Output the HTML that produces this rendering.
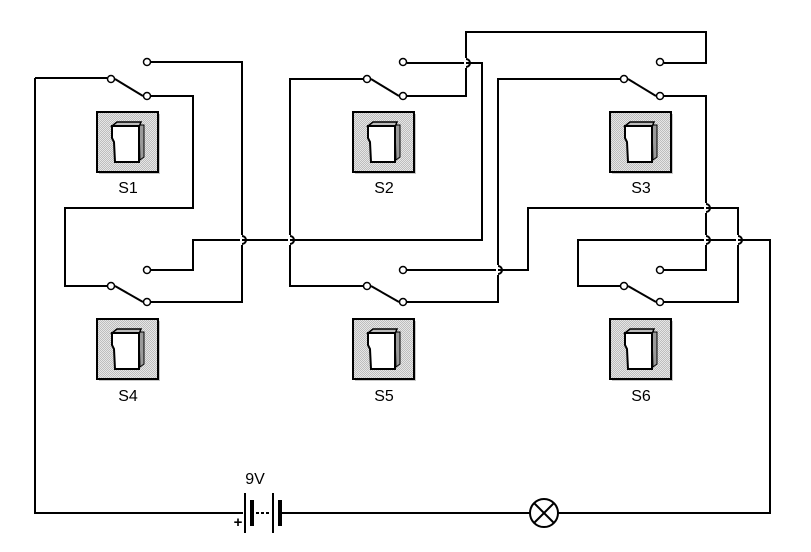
<!DOCTYPE html>
<html><head><meta charset="utf-8"><style>
html,body{margin:0;padding:0;background:#fff;}
svg{display:block;}
text{font-family:"Liberation Sans",sans-serif;font-size:16px;fill:#000;}
</style></head><body>
<svg width="811" height="552" viewBox="0 0 811 552" xmlns="http://www.w3.org/2000/svg">
<defs>
<pattern id="chk" width="2" height="2" patternUnits="userSpaceOnUse">
<rect width="2" height="2" fill="#e6e6e6"/><rect width="1" height="1" fill="#bdbdbd"/><rect x="1" y="1" width="1" height="1" fill="#bdbdbd"/>
</pattern>
<g id="sw">
<rect x="2" y="2" width="61" height="60" fill="#c8c8c8"/>
<rect x="0" y="0" width="61" height="60" fill="url(#chk)" stroke="#000" stroke-width="2"/>
<path d="M42,13 L47,13 L47,45 L43,48 Z" fill="#9a9a9a" stroke="#000" stroke-width="1"/>
<path d="M15,14 L20,10 L44,10 L42,15 L15,14 Z" fill="#bdbdbd" stroke="#000" stroke-width="1.5"/>
<path d="M15,14 L42,14 L42,50 L18,50 L17,30 L15,26 Z" fill="#fff" stroke="#000" stroke-width="2"/>
</g>
</defs>
<g fill="none" stroke="#000" stroke-width="2">
<!-- S1 -->
<path d="M35,78 H107"/><path d="M115,79 L143,96"/>
<path d="M151,62 H242 V302 H151"/>
<path d="M151,96 H193 V208 H65 V286 H107"/>
<path d="M115,286 L143,302"/>
<!-- S4 upper -->
<path d="M151,270 H193 V240 H482 V63 H407"/>
<!-- S2 -->
<path d="M363,79 H290 V286 H363"/><path d="M371,79 L399,96"/><path d="M371,286 L399,302"/>
<path d="M407,96 H466 V32 H706 V63 H664"/>
<!-- S3 -->
<path d="M620,79 H498 V302 H407"/><path d="M628,79 L656,96"/><path d="M628,286 L656,302"/>
<path d="M407,270 H528 V208 H738 V302 H664"/>
<path d="M664,96 H706 V270 H664"/>
<path d="M620,286 H578 V240 H770 V513 H558"/>
<path d="M530,513 H281"/>
<path d="M243,513 H35 V78"/>
</g>
<!-- hops -->
<g stroke-width="2">
<line x1="242" y1="235" x2="242" y2="245" stroke="#fff" stroke-width="4"/>
<line x1="290" y1="235" x2="290" y2="245" stroke="#fff" stroke-width="4"/>
<line x1="466" y1="58" x2="466" y2="68" stroke="#fff" stroke-width="4"/>
<line x1="498" y1="265" x2="498" y2="275" stroke="#fff" stroke-width="4"/>
<line x1="706" y1="203" x2="706" y2="213" stroke="#fff" stroke-width="4"/>
<line x1="706" y1="235" x2="706" y2="245" stroke="#fff" stroke-width="4"/>
<line x1="738" y1="235" x2="738" y2="245" stroke="#fff" stroke-width="4"/>
<g fill="none" stroke="#000">
<path d="M242,236 A4,4 0 0 1 242,244"/><path d="M242,240 H246"/>
<path d="M290,236 A4,4 0 0 1 290,244"/><path d="M290,240 H294"/>
<path d="M466,59 A4,4 0 0 1 466,67"/><path d="M466,63 H470"/>
<path d="M498,266 A4,4 0 0 1 498,274"/><path d="M498,270 H502"/>
<path d="M706,204 A4,4 0 0 1 706,212"/><path d="M706,208 H710"/>
<path d="M706,236 A4,4 0 0 1 706,244"/><path d="M706,240 H710"/>
<path d="M738,236 A4,4 0 0 1 738,244"/><path d="M738,240 H742"/>
</g>
</g>
<!-- contact circles -->
<g fill="#fff" stroke="#000" stroke-width="1.5">
<circle cx="111" cy="79" r="3.5"/><circle cx="147" cy="62" r="3.5"/><circle cx="147" cy="96" r="3.5"/>
<circle cx="111" cy="286" r="3.5"/><circle cx="147" cy="270" r="3.5"/><circle cx="147" cy="302" r="3.5"/>
<circle cx="367" cy="79" r="3.5"/><circle cx="403" cy="62" r="3.5"/><circle cx="403" cy="96" r="3.5"/>
<circle cx="367" cy="286" r="3.5"/><circle cx="403" cy="270" r="3.5"/><circle cx="403" cy="302" r="3.5"/>
<circle cx="624" cy="79" r="3.5"/><circle cx="660" cy="62" r="3.5"/><circle cx="660" cy="96" r="3.5"/>
<circle cx="624" cy="286" r="3.5"/><circle cx="660" cy="270" r="3.5"/><circle cx="660" cy="302" r="3.5"/>
</g>
<!-- switch boxes -->
<use href="#sw" x="97" y="112"/><use href="#sw" x="353" y="112"/><use href="#sw" x="610" y="112"/>
<use href="#sw" x="97" y="319"/><use href="#sw" x="353" y="319"/><use href="#sw" x="610" y="319"/>
<text x="128" y="193" text-anchor="middle">S1</text>
<text x="384" y="193" text-anchor="middle">S2</text>
<text x="641" y="193" text-anchor="middle">S3</text>
<text x="128" y="401" text-anchor="middle">S4</text>
<text x="384" y="401" text-anchor="middle">S5</text>
<text x="641" y="401" text-anchor="middle">S6</text>
<!-- battery -->
<g stroke="#000">
<line x1="245" y1="493" x2="245" y2="533" stroke-width="2"/>
<line x1="252" y1="500" x2="252" y2="526" stroke-width="4"/>
<line x1="256" y1="513" x2="271" y2="513" stroke-width="2" stroke-dasharray="3,2"/>
<line x1="273" y1="493" x2="273" y2="533" stroke-width="2"/>
<line x1="280" y1="500" x2="280" y2="526" stroke-width="4"/>
</g>
<text x="255" y="484" text-anchor="middle">9V</text>
<text x="238" y="527" text-anchor="middle" style="font-size:15px;font-weight:bold">+</text>
<!-- lamp -->
<g fill="none" stroke="#000" stroke-width="2">
<circle cx="544" cy="513" r="14"/>
<line x1="534" y1="503" x2="554" y2="523"/><line x1="554" y1="503" x2="534" y2="523"/>
</g>
</svg>
</body></html>
